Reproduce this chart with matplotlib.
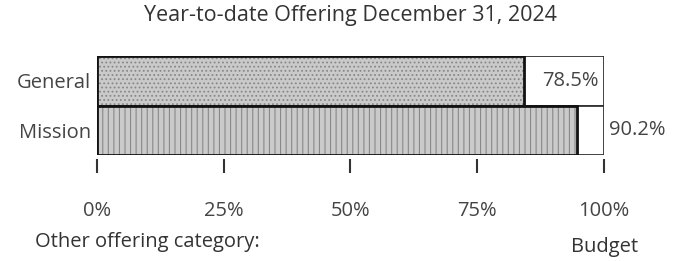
import matplotlib.pyplot as plt
import matplotlib as mpl

plt.rcParams['font.family'] = ['Open Sans', 'DejaVu Sans']
mpl.rcParams['hatch.linewidth'] = 0.8

categories = ['General', 'Mission']
bar_values = [84.2, 94.7]          # drawn bar length (% of budget)
value_labels = ['78.5%', '90.2%']
ticks = [0, 25, 50, 75, 100]
tick_labels = ['0%', '25%', '50%', '75%', '100%']
budget = 100

fig = plt.figure(figsize=(6.73, 2.61), dpi=100)
ax = fig.add_axes([0.144, 0.406, 0.753, 0.379])
for s in ax.spines.values():
    s.set_visible(False)
ax.spines['bottom'].set_position(('outward', 3))

ypos = [0, 1]
hatches = ['....', '|||']
for y, v, h in zip(ypos, bar_values, hatches):
    # budget box
    ax.barh(y, budget, height=1, left=0, color='white', edgecolor='#333', linewidth=1.3)
    # hatched actual
    ax.barh(y, v, height=1, color='#cacaca', edgecolor='#888', hatch=h, linewidth=0)
    ax.barh(y, v, height=1, color='none', edgecolor='#111', linewidth=2)

fs = 14.5
ax.text(99, ypos[0], value_labels[0], ha='right', va='center', fontsize=fs, color='#444')
ax.text(101, ypos[1], value_labels[1], ha='left', va='center', fontsize=fs, color='#444')

ax.set_xlim(0, budget)
ax.set_ylim(1.5, -0.5)
ax.set_yticks(ypos)
ax.set_yticklabels(categories, fontsize=fs, color='#444')
ax.tick_params(axis='y', length=0, pad=4)
ax.set_xticks(ticks)
ax.set_xticklabels(tick_labels, fontsize=fs, color='#444')
ax.tick_params(axis='x', length=10, width=1.5, color='#333', pad=20, direction='out')

fig.text(0.52, 0.94, 'Year-to-date Offering December 31, 2024', ha='center', va='center',
         fontsize=15.5, color='#333')
fig.text(0.052, 0.073, 'Other offering category:', ha='left', va='center', fontsize=fs, color='#333')
fig.text(0.899, 0.054, 'Budget', ha='center', va='center', fontsize=fs, color='#333')

fig.savefig('out.png', dpi=100)
